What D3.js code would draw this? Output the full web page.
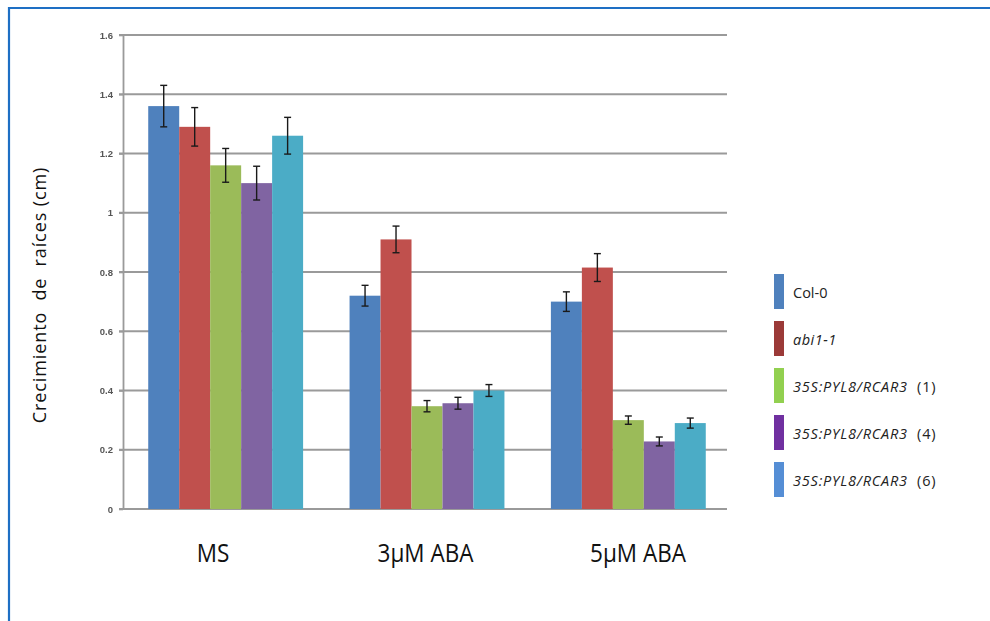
<!DOCTYPE html>
<html>
<head>
<meta charset="utf-8">
<script src="https://cdn.jsdelivr.net/npm/d3@7"></script>
<style>
  html, body { margin: 0; padding: 0; background: #fff; }
  svg { display: block; }
</style>
</head>
<body>
<svg id="chart" width="990" height="621"></svg>
<script>
// Root growth per genotype and treatment
const categories = ["MS", "3\u03BCM ABA", "5\u03BCM ABA"];
const seriesNames = ["Col-0", "abi1-1", "35S:PYL8/RCAR3 (1)", "35S:PYL8/RCAR3 (4)", "35S:PYL8/RCAR3 (6)"];
const col0   = [1.36, 0.72, 0.70];
const abi11  = [1.29, 0.91, 0.815];
const pyl8_1 = [1.16, 0.347, 0.30];
const pyl8_4 = [1.10, 0.357, 0.228];
const pyl8_6 = [1.26, 0.40, 0.29];
const col0Err   = [0.07, 0.035, 0.033];
const abi11Err  = [0.065, 0.045, 0.047];
const pyl8_1Err = [0.057, 0.019, 0.014];
const pyl8_4Err = [0.057, 0.02, 0.015];
const pyl8_6Err = [0.062, 0.02, 0.017];
const yTicks = [0, 0.2, 0.4, 0.6, 0.8, 1, 1.2, 1.4, 1.6];

const values = [col0, abi11, pyl8_1, pyl8_4, pyl8_6];
const errors = [col0Err, abi11Err, pyl8_1Err, pyl8_4Err, pyl8_6Err];

const barColors    = ["#4f81bd", "#c0504d", "#9bbb59", "#8064a2", "#4bacc6"];
const legendColors = ["#4f81bd", "#9b3a38", "#92d050", "#7030a0", "#558ed5"];

const svg = d3.select("#chart");

// frame lines along the top and left
svg.append("line").attr("x1", 9).attr("x2", 990).attr("y1", 8).attr("y2", 8)
  .attr("stroke", "#1e6fc4").attr("stroke-width", 2.2);
svg.append("line").attr("x1", 9).attr("x2", 9).attr("y1", 7).attr("y2", 621)
  .attr("stroke", "#1e6fc4").attr("stroke-width", 2.2);

const plot = { left: 123, right: 727, top: 35, bottom: 509 };

const y = d3.scaleLinear().domain([0, 1.6]).range([plot.bottom, plot.top]);
const x0 = d3.scaleBand().domain(categories).range([plot.left + 2, plot.right + 2]).paddingInner(0);
const bw = x0.bandwidth();
const barW = bw / 6.5;
const x1 = d3.scaleBand().domain(seriesNames)
  .range([barW * 0.75, bw - barW * 0.75]).padding(0);
// category captions sit on their own, slightly wider spacing
const xLabel = d3.scalePoint().domain(categories).range([213, 638]);

const soft = svg.append("defs").append("filter").attr("id", "soft");
soft.append("feGaussianBlur").attr("stdDeviation", 0.45);

// gridlines
svg.append("g")
  .selectAll("line").data(yTicks.filter(d => d > 0)).join("line")
  .attr("x1", plot.left - 4).attr("x2", plot.right)
  .attr("y1", d => y(d)).attr("y2", d => y(d))
  .attr("stroke", "#9a9a9a").attr("stroke-width", 1.8);

// y axis
const yAxis = svg.append("g")
  .attr("transform", `translate(${plot.left},0)`)
  .call(d3.axisLeft(y).tickValues(yTicks).tickSize(4).tickSizeOuter(0).tickFormat(d3.format("")));
yAxis.select(".domain").attr("stroke", "#9a9a9a").attr("stroke-width", 1.8);
yAxis.selectAll(".tick line").attr("stroke", "#9a9a9a").attr("stroke-width", 1.6);
yAxis.selectAll(".tick text")
  .attr("x", -10)
  .attr("fill", "#555")
  .attr("font-family", "Liberation Sans, Arial, sans-serif")
  .attr("font-size", 9.5)
  .attr("font-weight", "bold")
  .attr("filter", "url(#soft)");

// baseline
svg.append("line").attr("x1", plot.left - 4).attr("x2", plot.right)
  .attr("y1", y(0)).attr("y2", y(0))
  .attr("stroke", "#9a9a9a").attr("stroke-width", 1.8);

// bars
const groups = svg.append("g").selectAll("g").data(categories).join("g")
  .attr("transform", d => `translate(${x0(d)},0)`);

groups.each(function (cat, ci) {
  const g = d3.select(this);
  seriesNames.forEach((s, si) => {
    const v = values[si][ci];
    g.append("rect")
      .attr("x", x1(s)).attr("width", x1.bandwidth())
      .attr("y", y(v)).attr("height", y(0) - y(v))
      .attr("fill", barColors[si]);
  });
  seriesNames.forEach((s, si) => {
    const v = values[si][ci], e = errors[si][ci];
    const cx = x1(s) + x1.bandwidth() / 2;
    const eb = g.append("g").attr("stroke", "#1a1a1a").attr("stroke-width", 1.4);
    eb.append("line").attr("x1", cx).attr("x2", cx).attr("y1", y(v + e)).attr("y2", y(v - e));
    [v + e, v - e].forEach(t => {
      eb.append("line").attr("x1", cx - 3.5).attr("x2", cx + 3.5).attr("y1", y(t)).attr("y2", y(t));
    });
  });
});

// category labels
svg.append("g").selectAll("text").data(categories).join("text")
  .attr("x", d => xLabel(d))
  .attr("y", 562)
  .attr("text-anchor", "middle")
  .attr("font-family", "Open Sans, sans-serif")
  .attr("font-size", 25)
  .attr("fill", "#111")
  .attr("transform", d => {
    const cx = xLabel(d);
    return `translate(${cx},0) scale(0.9,1) translate(${-cx},0)`;
  })
  .text(d => d);

// y axis title
svg.append("text")
  .attr("transform", "translate(46,295) rotate(-90)")
  .attr("text-anchor", "middle")
  .attr("font-family", "Open Sans, sans-serif")
  .attr("font-size", 18)
  .attr("letter-spacing", 0.9)
  .attr("fill", "#111")
  .attr("xml:space", "preserve")
  .text("Crecimiento  de  ra\u00EDces (cm)");

// legend
const legend = svg.append("g").attr("transform", "translate(774,274)");
const legendStep = 47;
seriesNames.forEach((s, i) => {
  const row = legend.append("g").attr("transform", `translate(0,${i * legendStep})`);
  row.append("rect").attr("width", 10).attr("height", 35).attr("fill", legendColors[i]);
  const t = row.append("text")
    .attr("x", 19).attr("y", 24)
    .attr("font-family", "Open Sans, sans-serif")
    .attr("font-size", 14.5)
    .attr("fill", "#222")
    .attr("xml:space", "preserve");
  const m = s.match(/^(35S:PYL8\/RCAR3)(.*)$/);
  if (m) {
    t.append("tspan").attr("font-style", "italic").attr("letter-spacing", 0.8).text(m[1]);
    t.append("tspan").attr("letter-spacing", 0.8).text(m[2].replace(" ", "  "));
  } else if (s === "abi1-1") {
    t.append("tspan").attr("font-style", "italic").attr("letter-spacing", 0.5).text(s);
  } else {
    t.text(s);
  }
});
</script>
</body>
</html>
